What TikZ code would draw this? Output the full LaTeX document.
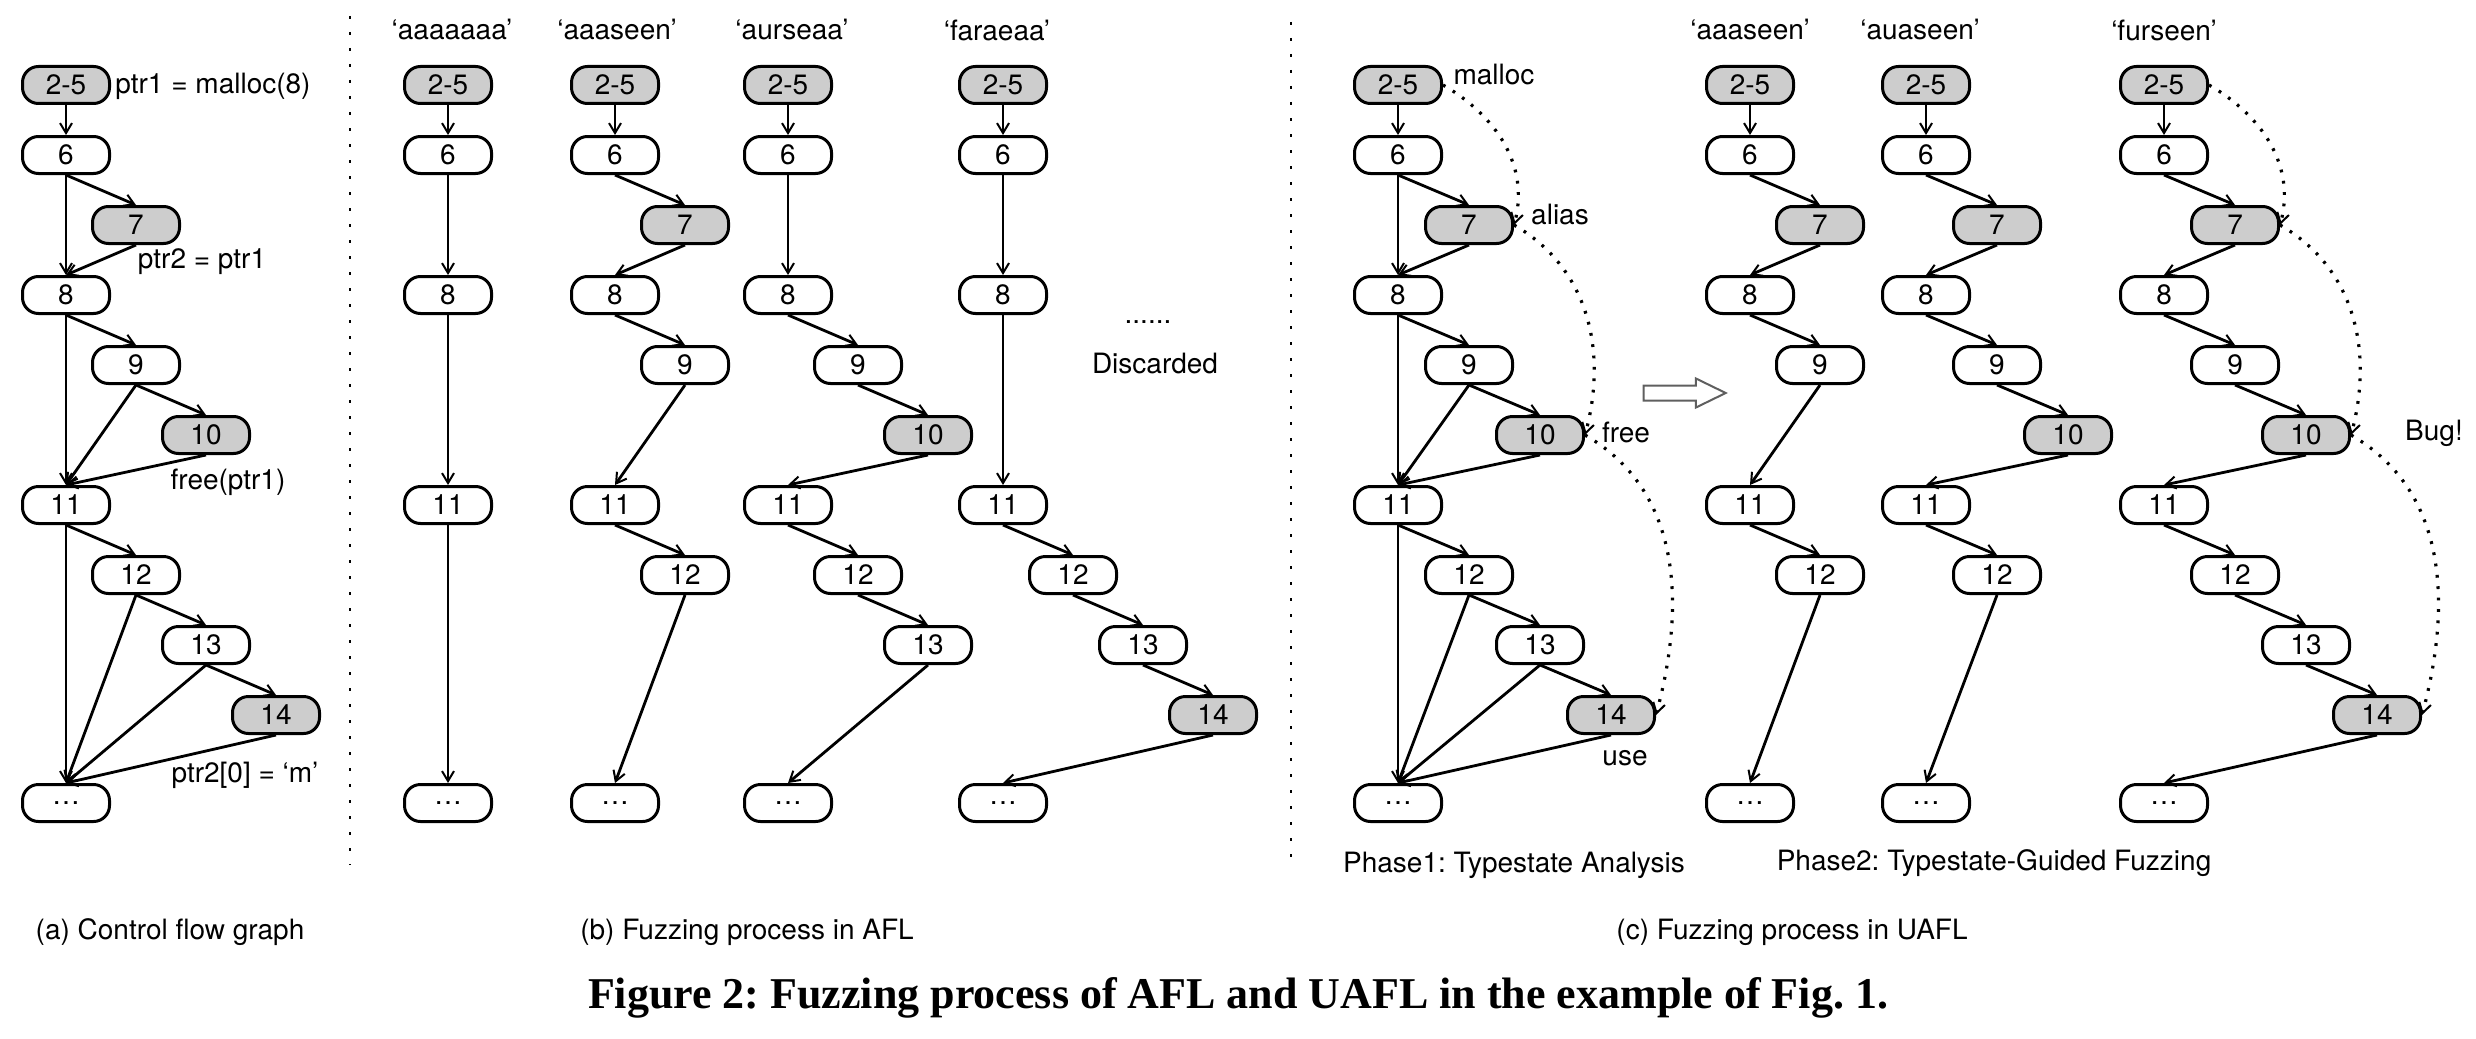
\documentclass[tikz,border=0pt]{standalone}
\usepackage{fontspec}
\setmainfont{TeX Gyre Heros}
\newfontfamily\captionserif{Liberation Serif}
\usetikzlibrary{arrows.meta,shapes.arrows}
\frenchspacing

\definecolor{stategray}{RGB}{205,205,205}
\definecolor{arrowgray}{RGB}{95,95,95}

\begin{document}
\begin{tikzpicture} [
  x=0.5pt, y=-0.5pt,
  font=\fontsize{14}{17}\selectfont,
  cfg node/.style= {rectangle,draw,rounded corners=8pt,line width=1.5pt,minimum width=43.5pt,minimum height=18.5pt,inner sep=0pt},
  ts node/.style= {cfg node,fill=stategray},
  cfg edge/.style= {line width=1.4pt,-{Straight Barb[length=5pt,width=6pt,line width=1pt]}},
  ts edge/.style= {cfg edge,line width=1.6pt,dash pattern=on 1.4pt off 4.3pt,out=-30,in=75},
  sep line/.style= {line width=0.7pt,dash pattern=on 1.5pt off 6.5pt},
]
\useasboundingbox (0,0) rectangle (2476,1038);

% (a) control flow graph
\node (a-25) [ts node] at (66,85) {2-5};
\node (a-6) [cfg node] at (66,155) {6};
\node (a-7) [ts node] at (136,225) {7};
\node (a-8) [cfg node] at (66,295) {8};
\node (a-9) [cfg node] at (136,365) {9};
\node (a-10) [ts node] at (206,435) {10};
\node (a-11) [cfg node] at (66,505) {11};
\node (a-12) [cfg node] at (136,575) {12};
\node (a-13) [cfg node] at (206,645) {13};
\node (a-14) [ts node] at (276,715) {14};
\node (a-e) [cfg node] at (66,803) {\dots};
\draw [cfg edge] (a-25.south) -- (a-6.north);
\path [cfg edge] (a-6.south) edge (a-7.north) edge (a-8.north);
\draw [cfg edge] (a-7.south) -- (a-8.north);
\path [cfg edge] (a-8.south) edge (a-9.north) edge (a-11.north);
\path [cfg edge] (a-9.south) edge (a-10.north) edge (a-11.north);
\draw [cfg edge] (a-10.south) -- (a-11.north);
\path [cfg edge] (a-11.south) edge (a-12.north) edge (a-e.north);
\path [cfg edge] (a-12.south) edge (a-13.north) edge (a-e.north);
\path [cfg edge] (a-13.south) edge (a-14.north) edge (a-e.north);
\draw [cfg edge] (a-14.south) -- (a-e.north);
\node (a-malloc) at (213,86) {ptr1 = malloc(8)};
\node (a-alias) at (202,262) {ptr2 = ptr1};
\node (a-free) at (228,482) {free(ptr1)};
\node (a-use) at (245,775) {ptr2[0] = ‘m’};

\draw [sep line] (350,16) -- (350,865);

% (b) AFL
\node (b1-seed) at (452,30) {‘aaaaaaa’};
\node (b1-25) [ts node] at (448,85) {2-5};
\node (b1-6) [cfg node] at (448,155) {6};
\node (b1-8) [cfg node] at (448,295) {8};
\node (b1-11) [cfg node] at (448,505) {11};
\node (b1-e) [cfg node] at (448,803) {\dots};
\draw [cfg edge] (b1-25.south) -- (b1-6.north);
\draw [cfg edge] (b1-6.south) -- (b1-8.north);
\draw [cfg edge] (b1-8.south) -- (b1-11.north);
\draw [cfg edge] (b1-11.south) -- (b1-e.north);

\node (b2-seed) at (617,30) {‘aaaseen’};
\node (b2-25) [ts node] at (615,85) {2-5};
\node (b2-6) [cfg node] at (615,155) {6};
\node (b2-7) [ts node] at (685,225) {7};
\node (b2-8) [cfg node] at (615,295) {8};
\node (b2-9) [cfg node] at (685,365) {9};
\node (b2-11) [cfg node] at (615,505) {11};
\node (b2-12) [cfg node] at (685,575) {12};
\node (b2-e) [cfg node] at (615,803) {\dots};
\draw [cfg edge] (b2-25.south) -- (b2-6.north);
\draw [cfg edge] (b2-6.south) -- (b2-7.north);
\draw [cfg edge] (b2-7.south) -- (b2-8.north);
\draw [cfg edge] (b2-8.south) -- (b2-9.north);
\draw [cfg edge] (b2-9.south) -- (b2-11.north);
\draw [cfg edge] (b2-11.south) -- (b2-12.north);
\draw [cfg edge] (b2-12.south) -- (b2-e.north);

\node (b3-seed) at (792,30) {‘aurseaa’};
\node (b3-25) [ts node] at (788,85) {2-5};
\node (b3-6) [cfg node] at (788,155) {6};
\node (b3-8) [cfg node] at (788,295) {8};
\node (b3-9) [cfg node] at (858,365) {9};
\node (b3-10) [ts node] at (928,435) {10};
\node (b3-11) [cfg node] at (788,505) {11};
\node (b3-12) [cfg node] at (858,575) {12};
\node (b3-13) [cfg node] at (928,645) {13};
\node (b3-e) [cfg node] at (788,803) {\dots};
\draw [cfg edge] (b3-25.south) -- (b3-6.north);
\draw [cfg edge] (b3-6.south) -- (b3-8.north);
\draw [cfg edge] (b3-8.south) -- (b3-9.north);
\draw [cfg edge] (b3-9.south) -- (b3-10.north);
\draw [cfg edge] (b3-10.south) -- (b3-11.north);
\draw [cfg edge] (b3-11.south) -- (b3-12.north);
\draw [cfg edge] (b3-12.south) -- (b3-13.north);
\draw [cfg edge] (b3-13.south) -- (b3-e.north);

\node (b4-seed) at (997,30) {‘faraeaa’};
\node (b4-25) [ts node] at (1003,85) {2-5};
\node (b4-6) [cfg node] at (1003,155) {6};
\node (b4-8) [cfg node] at (1003,295) {8};
\node (b4-11) [cfg node] at (1003,505) {11};
\node (b4-12) [cfg node] at (1073,575) {12};
\node (b4-13) [cfg node] at (1143,645) {13};
\node (b4-14) [ts node] at (1213,715) {14};
\node (b4-e) [cfg node] at (1003,803) {\dots};
\draw [cfg edge] (b4-25.south) -- (b4-6.north);
\draw [cfg edge] (b4-6.south) -- (b4-8.north);
\draw [cfg edge] (b4-8.south) -- (b4-11.north);
\draw [cfg edge] (b4-11.south) -- (b4-12.north);
\draw [cfg edge] (b4-12.south) -- (b4-13.north);
\draw [cfg edge] (b4-13.south) -- (b4-14.north);
\draw [cfg edge] (b4-14.south) -- (b4-e.north);

\node (b-more) at (1148,322) {......};
\node (b-drop) at (1155,363) {Discarded};

\draw [sep line] (1291,22) -- (1291,865);

% (c) UAFL, phase 1
\node (c1-25) [ts node] at (1398,85) {2-5};
\node (c1-6) [cfg node] at (1398,155) {6};
\node (c1-7) [ts node] at (1469,225) {7};
\node (c1-8) [cfg node] at (1398,295) {8};
\node (c1-9) [cfg node] at (1469,365) {9};
\node (c1-10) [ts node] at (1540,435) {10};
\node (c1-11) [cfg node] at (1398,505) {11};
\node (c1-12) [cfg node] at (1469,575) {12};
\node (c1-13) [cfg node] at (1540,645) {13};
\node (c1-14) [ts node] at (1611,715) {14};
\node (c1-e) [cfg node] at (1398,803) {\dots};
\draw [cfg edge] (c1-25.south) -- (c1-6.north);
\path [cfg edge] (c1-6.south) edge (c1-7.north) edge (c1-8.north);
\draw [cfg edge] (c1-7.south) -- (c1-8.north);
\path [cfg edge] (c1-8.south) edge (c1-9.north) edge (c1-11.north);
\path [cfg edge] (c1-9.south) edge (c1-10.north) edge (c1-11.north);
\draw [cfg edge] (c1-10.south) -- (c1-11.north);
\path [cfg edge] (c1-11.south) edge (c1-12.north) edge (c1-e.north);
\path [cfg edge] (c1-12.south) edge (c1-13.north) edge (c1-e.north);
\path [cfg edge] (c1-13.south) edge (c1-14.north) edge (c1-e.north);
\draw [cfg edge] (c1-14.south) -- (c1-e.north);
\draw [ts edge] (c1-25.east) to (c1-7.east);
\draw [ts edge] (c1-7.east) to (c1-10.east);
\draw [ts edge] (c1-10.east) to (c1-14.east);
\node (c1-malloc) at (1494,75) {malloc};
\node (c1-alias) at (1560,215) {alias};
\node (c1-free) at (1626,432) {free};
\node (c1-use) at (1625,758) {use};
\node (c1-phase) at (1514,865) {Phase1: Typestate Analysis};

\node (phase arrow) [single arrow,draw=arrowgray,fill=white,line width=1pt,inner sep=0pt,inner ysep=3.25pt,minimum height=41pt,single arrow head extend=3.5pt,single arrow tip angle=52] at (1677,393) {};

% (c) UAFL, phase 2
\node (c2-seed) at (1750,30) {‘aaaseen’};
\node (c2-25) [ts node] at (1750,85) {2-5};
\node (c2-6) [cfg node] at (1750,155) {6};
\node (c2-7) [ts node] at (1820,225) {7};
\node (c2-8) [cfg node] at (1750,295) {8};
\node (c2-9) [cfg node] at (1820,365) {9};
\node (c2-11) [cfg node] at (1750,505) {11};
\node (c2-12) [cfg node] at (1820,575) {12};
\node (c2-e) [cfg node] at (1750,803) {\dots};
\draw [cfg edge] (c2-25.south) -- (c2-6.north);
\draw [cfg edge] (c2-6.south) -- (c2-7.north);
\draw [cfg edge] (c2-7.south) -- (c2-8.north);
\draw [cfg edge] (c2-8.south) -- (c2-9.north);
\draw [cfg edge] (c2-9.south) -- (c2-11.north);
\draw [cfg edge] (c2-11.south) -- (c2-12.north);
\draw [cfg edge] (c2-12.south) -- (c2-e.north);

\node (c3-seed) at (1920,30) {‘auaseen’};
\node (c3-25) [ts node] at (1926,85) {2-5};
\node (c3-6) [cfg node] at (1926,155) {6};
\node (c3-7) [ts node] at (1997,225) {7};
\node (c3-8) [cfg node] at (1926,295) {8};
\node (c3-9) [cfg node] at (1997,365) {9};
\node (c3-10) [ts node] at (2068,435) {10};
\node (c3-11) [cfg node] at (1926,505) {11};
\node (c3-12) [cfg node] at (1997,575) {12};
\node (c3-e) [cfg node] at (1926,803) {\dots};
\draw [cfg edge] (c3-25.south) -- (c3-6.north);
\draw [cfg edge] (c3-6.south) -- (c3-7.north);
\draw [cfg edge] (c3-7.south) -- (c3-8.north);
\draw [cfg edge] (c3-8.south) -- (c3-9.north);
\draw [cfg edge] (c3-9.south) -- (c3-10.north);
\draw [cfg edge] (c3-10.south) -- (c3-11.north);
\draw [cfg edge] (c3-11.south) -- (c3-12.north);
\draw [cfg edge] (c3-12.south) -- (c3-e.north);

\node (c4-seed) at (2164,30) {‘furseen’};
\node (c4-25) [ts node] at (2164,85) {2-5};
\node (c4-6) [cfg node] at (2164,155) {6};
\node (c4-7) [ts node] at (2235,225) {7};
\node (c4-8) [cfg node] at (2164,295) {8};
\node (c4-9) [cfg node] at (2235,365) {9};
\node (c4-10) [ts node] at (2306,435) {10};
\node (c4-11) [cfg node] at (2164,505) {11};
\node (c4-12) [cfg node] at (2235,575) {12};
\node (c4-13) [cfg node] at (2306,645) {13};
\node (c4-14) [ts node] at (2377,715) {14};
\node (c4-e) [cfg node] at (2164,803) {\dots};
\draw [cfg edge] (c4-25.south) -- (c4-6.north);
\draw [cfg edge] (c4-6.south) -- (c4-7.north);
\draw [cfg edge] (c4-7.south) -- (c4-8.north);
\draw [cfg edge] (c4-8.south) -- (c4-9.north);
\draw [cfg edge] (c4-9.south) -- (c4-10.north);
\draw [cfg edge] (c4-10.south) -- (c4-11.north);
\draw [cfg edge] (c4-11.south) -- (c4-12.north);
\draw [cfg edge] (c4-12.south) -- (c4-13.north);
\draw [cfg edge] (c4-13.south) -- (c4-14.north);
\draw [cfg edge] (c4-14.south) -- (c4-e.north);
\draw [ts edge] (c4-25.east) to (c4-7.east);
\draw [ts edge] (c4-7.east) to (c4-10.east);
\draw [ts edge] (c4-10.east) to (c4-14.east);
\node (c4-bug) at (2434,433) {Bug!};
\node (c2-phase) at (1994,863) {Phase2: Typestate-Guided Fuzzing};

% sub-captions
\node (cap-a) at (170,932) {(a) Control flow graph};
\node (cap-b) at (747,932) {(b) Fuzzing process in AFL};
\node (cap-c) at (1792,932) {(c) Fuzzing process in UAFL};
\node (fig-caption) at (1238,998) {\captionserif\bfseries\fontsize{22}{26}\selectfont Figure 2: Fuzzing process of AFL and UAFL in the example of Fig. 1.};
\end{tikzpicture}
\end{document}
